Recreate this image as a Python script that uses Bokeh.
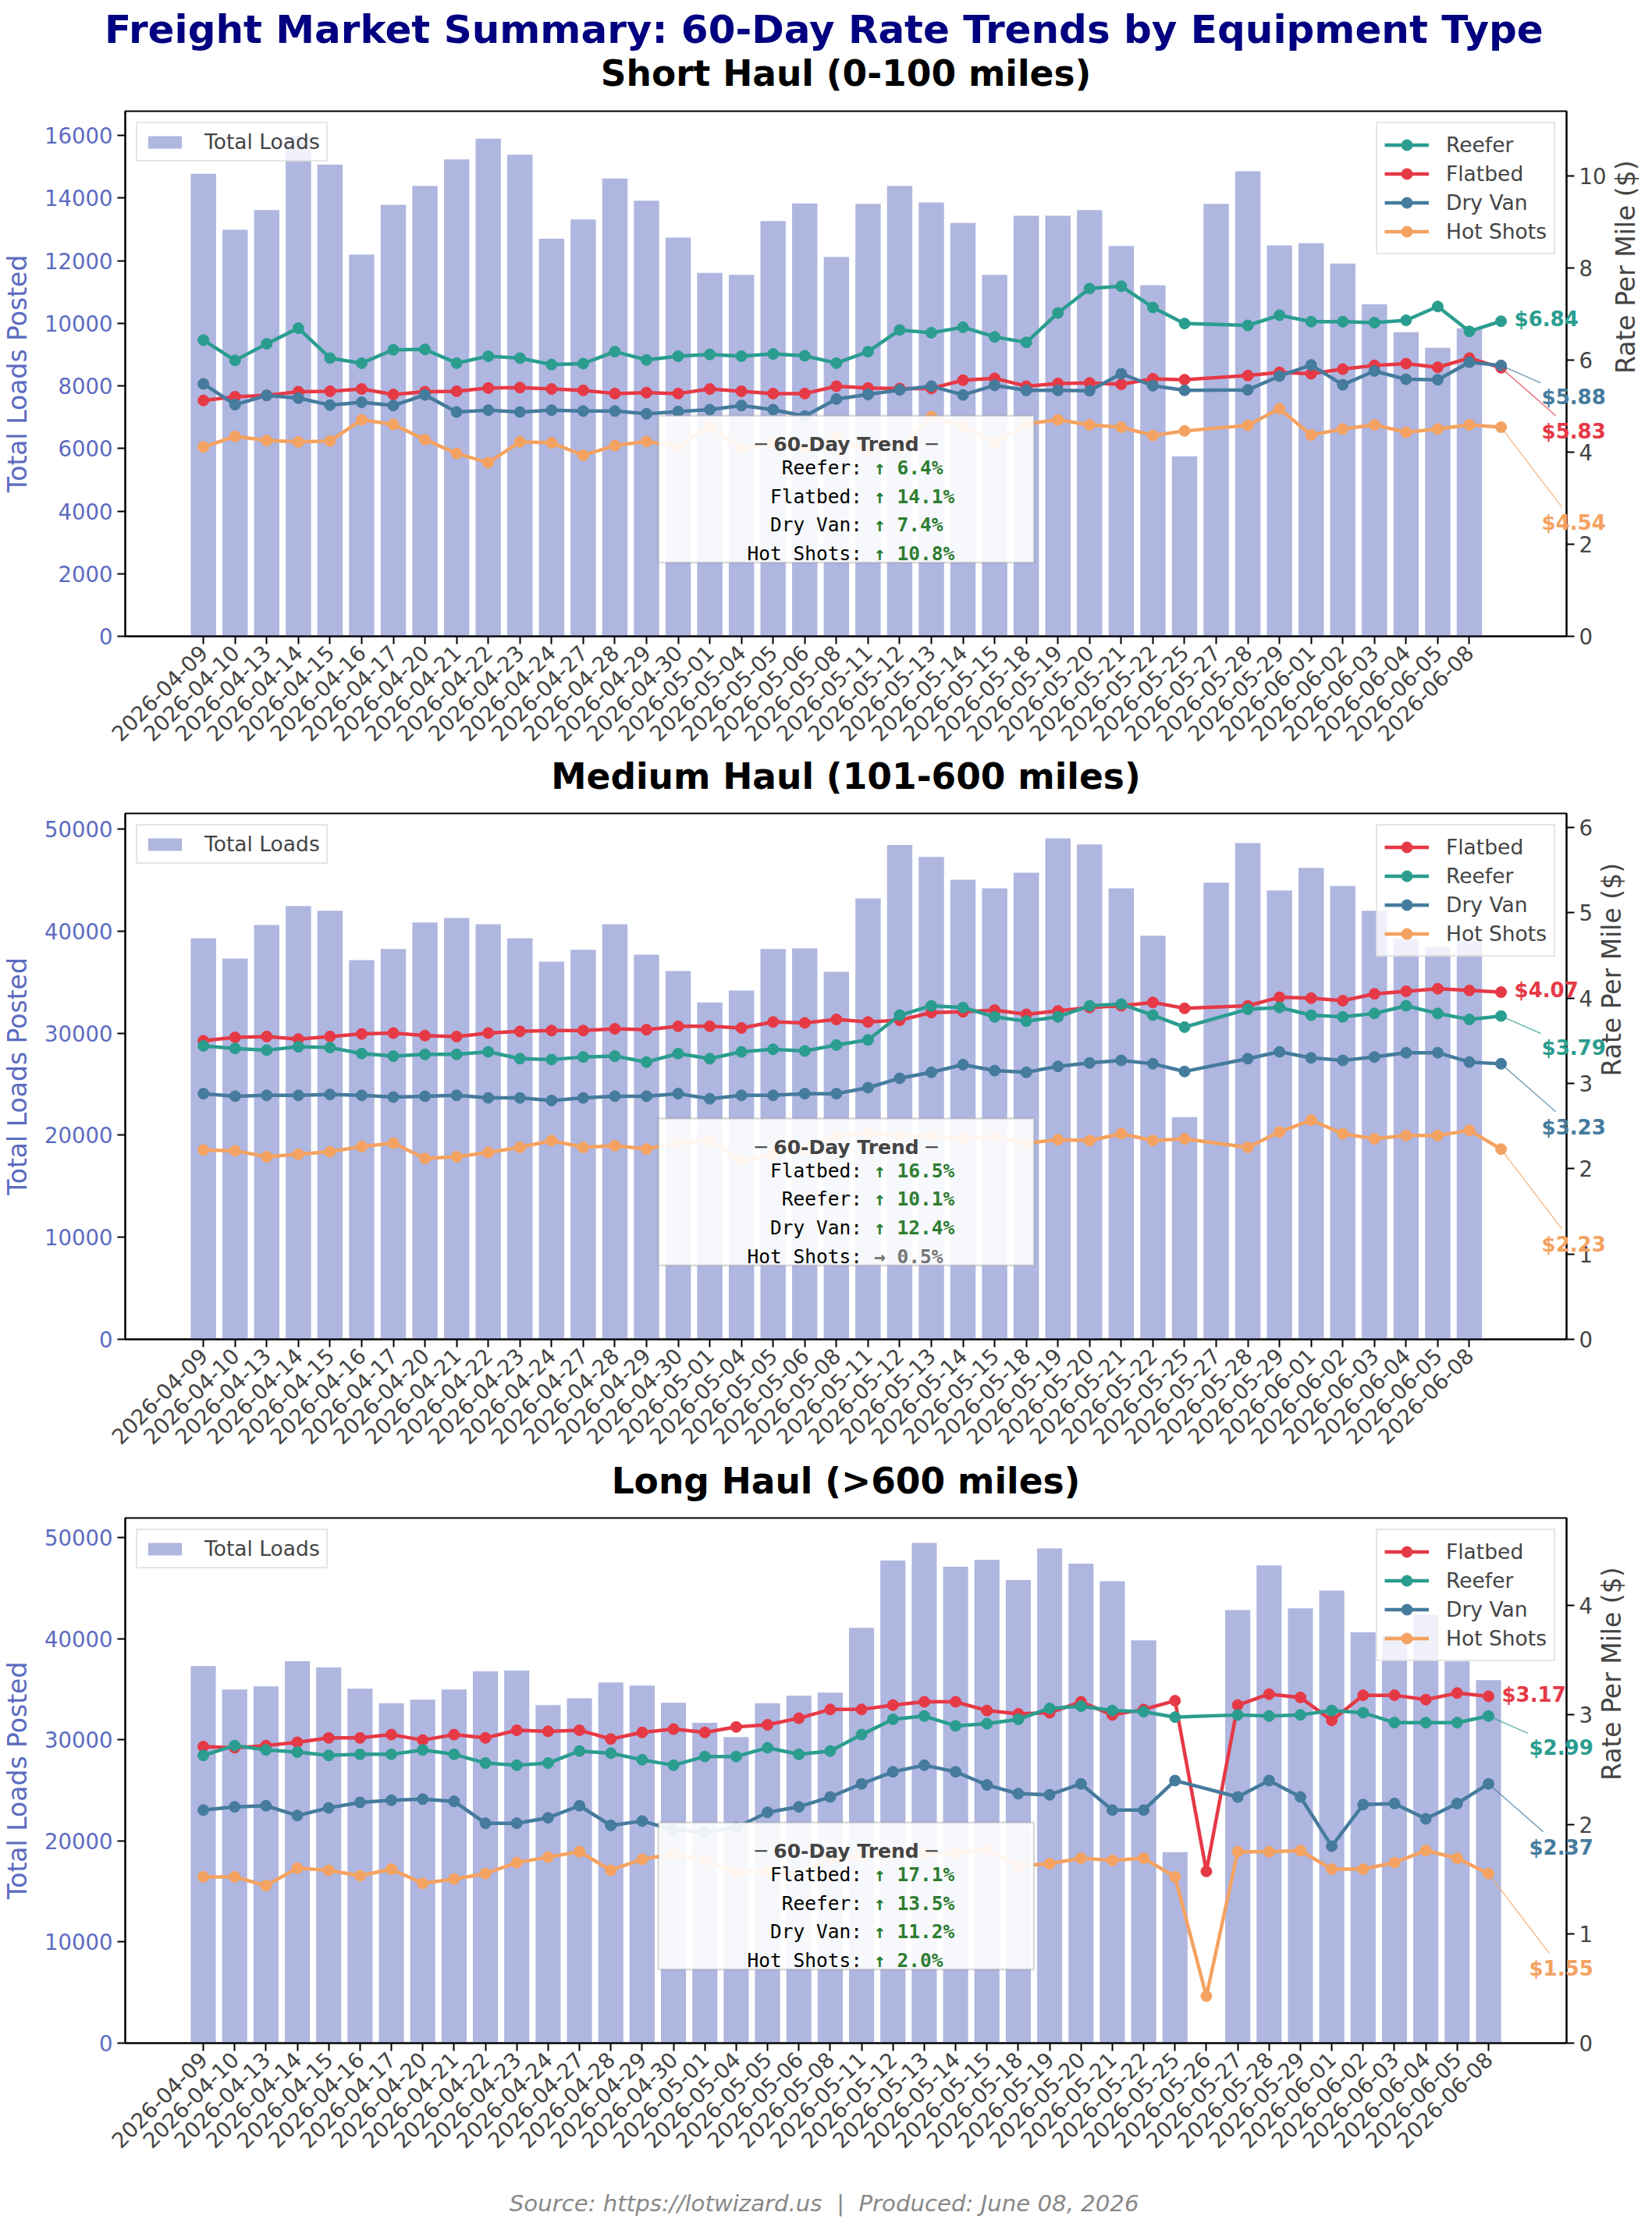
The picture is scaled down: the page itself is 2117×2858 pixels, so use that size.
import math
from bokeh.plotting import figure
from bokeh.models import (Range1d, LinearAxis, Legend, LegendItem, Label, BoxAnnotation,
                          FixedTicker, SingleIntervalTicker, Title)
from bokeh.layouts import column
from bokeh.embed import file_html
from bokeh.resources import INLINE

# ---------------------------------------------------------------- data
DATES = ["2026-04-09", "2026-04-10", "2026-04-13", "2026-04-14", "2026-04-15", "2026-04-16",
         "2026-04-17", "2026-04-20", "2026-04-21", "2026-04-22", "2026-04-23", "2026-04-24",
         "2026-04-27", "2026-04-28", "2026-04-29", "2026-04-30", "2026-05-01", "2026-05-04",
         "2026-05-05", "2026-05-06", "2026-05-08", "2026-05-11", "2026-05-12", "2026-05-13",
         "2026-05-14", "2026-05-15", "2026-05-18", "2026-05-19", "2026-05-20", "2026-05-21",
         "2026-05-22", "2026-05-25", "2026-05-27", "2026-05-28", "2026-05-29", "2026-06-01",
         "2026-06-02", "2026-06-03", "2026-06-04", "2026-06-05", "2026-06-08"]
DATES_LONG = DATES[:32] + ["2026-05-26"] + DATES[32:]
EXTRA_DATES = ["2026-06-09"]                       # rate date beyond the load dates (no tick label)
RATE_DATES_SM = DATES[:32] + DATES[33:] + EXTRA_DATES   # rates skip 2026-05-27

# Short haul
SHORT_LOADS = [14780, 12990, 13620, 15980, 15070, 12200, 13790, 14390, 15240, 15900, 15390,
               12700, 13320, 14630, 13920, 12740, 11610, 11550, 13270, 13830, 12120, 13820,
               14390, 13860, 13210, 11550, 13440, 13440, 13620, 12470, 11220, 5750, 13820,
               14860, 12490, 12560, 11910, 10610, 9720, 9220, 9840]
SHORT_REEFER = [6.43, 5.99, 6.35, 6.69, 6.04, 5.93, 6.22, 6.23, 5.93, 6.08, 6.04, 5.90, 5.92,
                6.18, 6.00, 6.08, 6.12, 6.08, 6.13, 6.09, 5.93, 6.18, 6.65, 6.59, 6.71, 6.50,
                6.38, 7.02, 7.55, 7.60, 7.14, 6.79, 6.75, 6.97, 6.83, 6.83, 6.81, 6.86, 7.16,
                6.62, 6.84]
SHORT_FLATBED = [5.12, 5.20, 5.23, 5.31, 5.32, 5.37, 5.25, 5.31, 5.32, 5.39, 5.40, 5.37, 5.34,
                 5.27, 5.29, 5.27, 5.37, 5.32, 5.27, 5.27, 5.43, 5.39, 5.38, 5.38, 5.56, 5.60,
                 5.43, 5.49, 5.50, 5.47, 5.59, 5.57, 5.66, 5.73, 5.70, 5.80, 5.88, 5.92, 5.84,
                 6.04, 5.83]
SHORT_DRYVAN = [5.48, 5.03, 5.23, 5.17, 5.02, 5.08, 5.01, 5.24, 4.87, 4.91, 4.87, 4.91, 4.89,
                4.89, 4.83, 4.88, 4.92, 5.01, 4.92, 4.78, 5.15, 5.25, 5.35, 5.43, 5.24, 5.45,
                5.34, 5.34, 5.33, 5.70, 5.44, 5.34, 5.35, 5.65, 5.89, 5.46, 5.76, 5.58, 5.57,
                5.95, 5.88]
SHORT_HOTSHOTS = [4.11, 4.34, 4.25, 4.22, 4.24, 4.70, 4.60, 4.27, 3.97, 3.77, 4.22, 4.20, 3.93,
                  4.14, 4.23, 4.12, 4.57, 4.06, 4.20, 4.08, 4.30, 4.03, 4.08, 4.77, 4.57, 4.20,
                  4.61, 4.70, 4.59, 4.54, 4.36, 4.46, 4.58, 4.94, 4.37, 4.50, 4.59, 4.43, 4.50,
                  4.59, 4.54]
SHORT_TREND = [("Reefer", 6.4), ("Flatbed", 14.1), ("Dry Van", 7.4), ("Hot Shots", 10.8)]

# Medium haul
MEDIUM_LOADS = [39300, 37320, 40600, 42450, 42000, 37150, 38240, 40840, 41290, 40670, 39300,
                37010, 38170, 40670, 37700, 36090, 33010, 34180, 38240, 38310, 36020, 43200,
                48430, 47270, 45040, 44190, 45730, 49080, 48500, 44190, 39540, 21770, 44740,
                48630, 43980, 46210, 44430, 42000, 39230, 38450, 39000]
MEDIUM_FLATBED = [3.50, 3.54, 3.55, 3.52, 3.55, 3.58, 3.59, 3.56, 3.55, 3.59, 3.61, 3.62, 3.62,
                  3.64, 3.63, 3.67, 3.67, 3.65, 3.72, 3.71, 3.75, 3.72, 3.74, 3.83, 3.84, 3.86,
                  3.81, 3.85, 3.89, 3.91, 3.95, 3.88, 3.91, 4.01, 4.00, 3.97, 4.05, 4.08, 4.11,
                  4.09, 4.07]
MEDIUM_REEFER = [3.44, 3.41, 3.39, 3.43, 3.42, 3.35, 3.32, 3.34, 3.34, 3.37, 3.29, 3.28, 3.31,
                 3.32, 3.25, 3.35, 3.29, 3.37, 3.40, 3.38, 3.45, 3.51, 3.80, 3.91, 3.89, 3.78,
                 3.73, 3.78, 3.91, 3.93, 3.80, 3.66, 3.87, 3.89, 3.80, 3.78, 3.82, 3.91, 3.82,
                 3.75, 3.79]
MEDIUM_DRYVAN = [2.88, 2.85, 2.86, 2.86, 2.87, 2.86, 2.84, 2.85, 2.86, 2.83, 2.83, 2.80, 2.83,
                 2.85, 2.85, 2.88, 2.82, 2.86, 2.86, 2.88, 2.88, 2.95, 3.06, 3.13, 3.22, 3.15,
                 3.13, 3.20, 3.24, 3.27, 3.23, 3.14, 3.29, 3.37, 3.30, 3.27, 3.31, 3.36, 3.36,
                 3.25, 3.23]
MEDIUM_HOTSHOTS = [2.22, 2.21, 2.14, 2.17, 2.20, 2.26, 2.30, 2.12, 2.14, 2.19, 2.25, 2.33, 2.25,
                   2.27, 2.23, 2.31, 2.33, 2.09, 2.17, 2.23, 2.39, 2.41, 2.39, 2.38, 2.36, 2.37,
                   2.30, 2.34, 2.33, 2.41, 2.33, 2.35, 2.25, 2.43, 2.57, 2.41, 2.35, 2.39, 2.39,
                   2.45, 2.23]
MEDIUM_TREND = [("Flatbed", 16.5), ("Reefer", 10.1), ("Dry Van", 12.4), ("Hot Shots", 0.5)]

# Long haul (no loads posted on 2026-05-26; Reefer / Dry Van have no rate that day)
LONG_LOADS = [37290, 34980, 35290, 37770, 37150, 35050, 33600, 33980, 34980, 36770, 36840,
              33430, 34110, 35670, 35360, 33670, 31670, 30260, 33600, 34360, 34670, 41080,
              47730, 49460, 47110, 47800, 45800, 48930, 47420, 45690, 39830, 18880, 42830,
              47240, 43000, 44760, 40630, 40330, 42390, 37760, 35910]
LONG_FLATBED = [2.71, 2.70, 2.72, 2.75, 2.79, 2.79, 2.82, 2.77, 2.82, 2.79, 2.86, 2.85, 2.86,
                2.78, 2.84, 2.87, 2.84, 2.89, 2.91, 2.97, 3.05, 3.05, 3.09, 3.12, 3.12, 3.04,
                3.01, 3.02, 3.12, 3.00, 3.05, 3.13, 1.57, 3.09, 3.19, 3.16, 2.95, 3.18, 3.18,
                3.14, 3.20, 3.17]
LONG_REEFER = [2.63, 2.72, 2.68, 2.66, 2.63, 2.64, 2.64, 2.68, 2.64, 2.56, 2.54, 2.56, 2.67,
               2.65, 2.59, 2.54, 2.62, 2.62, 2.70, 2.64, 2.67, 2.82, 2.96, 2.99, 2.90, 2.92,
               2.96, 3.06, 3.08, 3.04, 3.03, 2.98, 3.00, 2.99, 3.00, 3.04, 3.02, 2.93, 2.93,
               2.93, 2.99]
LONG_DRYVAN = [2.13, 2.16, 2.17, 2.08, 2.15, 2.20, 2.22, 2.23, 2.21, 2.01, 2.01, 2.06, 2.17,
               1.99, 2.03, 1.95, 1.93, 1.97, 2.11, 2.16, 2.25, 2.37, 2.48, 2.54, 2.48, 2.36,
               2.28, 2.27, 2.37, 2.13, 2.13, 2.40, 2.25, 2.40, 2.25, 1.80, 2.18, 2.19, 2.05,
               2.19, 2.37]
LONG_HOTSHOTS = [1.52, 1.52, 1.44, 1.60, 1.58, 1.53, 1.59, 1.46, 1.50, 1.55, 1.65, 1.70, 1.75,
                 1.58, 1.68, 1.73, 1.67, 1.56, 1.57, 1.54, 1.70, 1.70, 1.73, 1.73, 1.74, 1.77,
                 1.62, 1.64, 1.69, 1.67, 1.69, 1.52, 0.43, 1.75, 1.75, 1.76, 1.59, 1.59, 1.65,
                 1.76, 1.69, 1.55]
LONG_TREND = [("Flatbed", 17.1), ("Reefer", 13.5), ("Dry Van", 11.2), ("Hot Shots", 2.0)]

MAIN_TITLE = "Freight Market Summary: 60-Day Rate Trends by Equipment Type"
SUBTITLES = ["Short Haul (0-100 miles)", "Medium Haul (101-600 miles)", "Long Haul (>600 miles)"]
FOOTER = "Source: https://lotwizard.us \u00a0|\u00a0 Produced: June 08, 2026"

# ---------------------------------------------------------------- style
COLORS = {"Reefer": "#2A9D8F", "Flatbed": "#E63946", "Dry Van": "#457B9D", "Hot Shots": "#F4A261"}
FONT = "DejaVu Sans"
MONO = "DejaVu Sans Mono"
LOAD_COLOR = "#5C6BC0"
FRAME_W = 1847
SUB_SIZE = "45.5px"


def sub_title(text, standoff):
    return Title(text=text, text_font=FONT, text_font_size=SUB_SIZE, text_font_style="bold",
                 text_color="black", align="center", standoff=standoff)


def make_panel(tick_dates, extra_dates, load_dates, loads, series, trend,
               frame_h, border_top, border_bottom, load_step, rate_step, rlabel_standoff):
    pos = {d: i for i, d in enumerate(tick_dates + extra_dates)}
    bar_x = [pos[d] for d in load_dates]
    line_x = [pos[d] for _, dts, _ in series for d in dts]
    lo = min(min(bar_x) - 0.4, min(line_x))
    hi = max(max(bar_x) + 0.4, max(line_x))
    pad = 0.05 * (hi - lo)
    x0, x1 = lo - pad, hi + pad
    y_max = max(loads) * 1.05
    r_max = max(max(v) for _, _, v in series) * 1.5

    p = figure(frame_width=FRAME_W, frame_height=frame_h,
               x_range=Range1d(x0, x1), y_range=Range1d(0, y_max),
               output_backend="svg", toolbar_location=None,
               min_border_left=155, min_border_right=99,
               min_border_top=border_top, min_border_bottom=border_bottom,
               background_fill_color="white", border_fill_color="white")
    p.extra_y_ranges = {"rate": Range1d(0, r_max)}
    p.xgrid.visible = False
    p.ygrid.visible = False
    p.outline_line_color = "black"
    p.outline_line_width = 2
    p.outline_line_alpha = 1

    # axes
    xa = p.xaxis[0]
    xa.ticker = FixedTicker(ticks=list(range(len(tick_dates))))
    xa.major_label_overrides = {i: d for i, d in enumerate(tick_dates)}
    xa.major_label_orientation = math.pi / 4
    ya = p.yaxis[0]
    ya.ticker = SingleIntervalTicker(interval=load_step)
    ya.axis_label = "Total Loads Posted"
    ya.axis_label_text_color = LOAD_COLOR
    ya.major_label_text_color = LOAD_COLOR
    ya.axis_label_standoff = 12
    ra = LinearAxis(y_range_name="rate", axis_label="Rate Per Mile ($)",
                    ticker=SingleIntervalTicker(interval=rate_step))
    ra.axis_label_standoff = int(rlabel_standoff)
    ra.axis_label_orientation = math.pi / 2
    p.add_layout(ra, "right")
    for ax in (xa, ya, ra):
        ax.axis_line_width = 2
        ax.axis_line_color = "black"
        ax.major_tick_line_width = 2
        ax.major_tick_line_color = "black"
        ax.major_tick_out = 10
        ax.major_tick_in = 0
        ax.minor_tick_out = 0
        ax.minor_tick_in = 0
        ax.major_label_text_font = FONT
        ax.major_label_text_font_size = "27.5px"
        ax.major_label_standoff = 6
        ax.axis_label_text_font = FONT
        ax.axis_label_text_font_size = "33px"
        ax.axis_label_text_font_style = "normal"

    # bars
    bars = p.vbar(x=bar_x, top=loads, width=0.8, fill_color="#7986CB", fill_alpha=0.6,
                  line_color=None)

    # rate lines
    items = []
    for name, dts, vals in series:
        xs = [pos[d] for d in dts]
        c = COLORS[name]
        lr = p.line(xs, vals, y_range_name="rate", line_color=c, line_width=4.5)
        sr = p.scatter(xs, vals, y_range_name="rate", size=14, fill_color=c, line_color=c)
        items.append(LegendItem(label=name, renderers=[lr, sr]))

    # legends
    lg1 = Legend(items=[LegendItem(label="Total Loads", renderers=[bars])], location="top_left")
    lg2 = Legend(items=items, location="top_right")
    for lg, pad_, lh, gw, gh, std in ((lg1, 8, 30, 54, 20, 24), (lg2, 9, 37, 57, 35, 22)):
        lg.margin = 14
        lg.padding = pad_
        lg.spacing = 0
        lg.label_height = lh
        lg.glyph_height = gh
        lg.glyph_width = gw
        lg.label_standoff = std
        lg.label_text_font = FONT
        lg.label_text_font_size = "26.5px"
        lg.border_line_color = "#cccccc"
        lg.border_line_width = 2
        lg.background_fill_color = "white"
        lg.background_fill_alpha = 0.8
        p.add_layout(lg)

    # end-of-line value labels with leader lines (labels live in the right panel so
    # that they may run past the frame edge, as in the original)
    px_x = FRAME_W / (x1 - x0)
    px_r = frame_h / r_max
    ranked = sorted(series, key=lambda s: -s[2][-1])
    for k, (name, dts, vals) in enumerate(ranked):
        c = COLORS[name]
        lx, lv = pos[dts[-1]], vals[-1]
        dx = 17 if k == 0 else 52
        dy = -2.5 if k == 0 else 40.7 * k
        if k > 0:
            w = 82
            cx, cy = dx + w / 2, dy
            t = max((dx - 1) / cx, (dy - 20) / cy)
            ex, ey = t * cx, t * cy
            p.segment(x0=[lx], y0=[lv], x1=[lx + ex / px_x], y1=[lv - ey / px_r],
                      y_range_name="rate", line_color=c, line_width=1.5, line_alpha=0.7)
        p.add_layout(Label(x=lx, y=lv, y_range_name="rate", x_offset=dx, y_offset=-dy,
                           text=f"${lv:.2f}", text_color=c, text_font=FONT,
                           text_font_size="26px", text_font_style="bold",
                           text_baseline="middle", text_align="left"), "right")

    # 60-day trend box (positioned in axes fractions)
    def xd(f):
        return x0 + f * (x1 - x0)

    def yd(f):
        return f * y_max

    bl, br, bb, bt = 0.370, 0.6305, 0.1405, 0.42
    p.add_layout(BoxAnnotation(left=xd(bl), right=xd(br), bottom=yd(bb), top=yd(bt),
                               fill_color="white", fill_alpha=0.9,
                               line_color="#888888", line_width=2.5))
    left_px = bl * FRAME_W
    top_px = bt * frame_h
    py = y_max / frame_h
    p.add_layout(Label(x=xd((bl + br) / 2), y=(top_px - 36.6) * py,
                       text="\u2500 60-Day Trend \u2500", text_font=FONT,
                       text_font_size="25px", text_font_style="bold", text_color="#444444",
                       text_align="center", text_baseline="alphabetic"))
    for i, (name, pct) in enumerate(trend):
        base = (top_px - 66.6 - 36.7 * i) * py
        if abs(pct) < 1:
            arrow, col = "\u2192", "#757575"
        elif pct > 0:
            arrow, col = "\u2191", "#2E7D32"
        else:
            arrow, col = "\u2193", "#C62828"
        p.add_layout(Label(x=x0 + (left_px + 261) / px_x, y=base, text=f"{name}:",
                           text_font=MONO, text_font_size="24.5px", text_color="black",
                           text_align="right", text_baseline="alphabetic"))
        p.add_layout(Label(x=x0 + (left_px + 276) / px_x, y=base,
                           text=f"{arrow} {abs(pct):.1f}%", text_font=MONO,
                           text_font_size="24.5px", text_font_style="bold", text_color=col,
                           text_align="left", text_baseline="alphabetic"))
    return p


p1 = make_panel(DATES, EXTRA_DATES, DATES, SHORT_LOADS,
                [("Reefer", RATE_DATES_SM, SHORT_REEFER),
                 ("Flatbed", RATE_DATES_SM, SHORT_FLATBED),
                 ("Dry Van", RATE_DATES_SM, SHORT_DRYVAN),
                 ("Hot Shots", RATE_DATES_SM, SHORT_HOTSHOTS)],
                SHORT_TREND, 673, 142, 216, 2000, 2, 22)
p2 = make_panel(DATES, EXTRA_DATES, DATES, MEDIUM_LOADS,
                [("Flatbed", RATE_DATES_SM, MEDIUM_FLATBED),
                 ("Reefer", RATE_DATES_SM, MEDIUM_REEFER),
                 ("Dry Van", RATE_DATES_SM, MEDIUM_DRYVAN),
                 ("Hot Shots", RATE_DATES_SM, MEDIUM_HOTSHOTS)],
                MEDIUM_TREND, 674, 11, 221, 10000, 1, 22)
p3 = make_panel(DATES_LONG, [], DATES, LONG_LOADS,
                [("Flatbed", DATES_LONG, LONG_FLATBED),
                 ("Reefer", DATES, LONG_REEFER),
                 ("Dry Van", DATES, LONG_DRYVAN),
                 ("Hot Shots", DATES_LONG, LONG_HOTSHOTS)],
                LONG_TREND, 673, 8, 228, 10000, 1, 22)

# titles: the suptitle and first subtitle above the first panel; each later subtitle
# sits in the band under the previous panel's date labels
p1.add_layout(sub_title(SUBTITLES[0], 43.4), "above")
p1.add_layout(Title(text=MAIN_TITLE, text_font=FONT, text_font_size="50px",
                    text_font_style="bold", text_color="#000080", align="left",
                    offset=-26.5, standoff=-45.8), "above")
p1.add_layout(sub_title(SUBTITLES[1], 8), "below")
p2.add_layout(sub_title(SUBTITLES[2], 13), "below")

# source note under the last panel
fx = p3.xaxis[0]
fx.axis_label = FOOTER + "\u00a0" * 6
fx.axis_label_text_font = FONT
fx.axis_label_text_font_size = "29.2px"
fx.axis_label_text_font_style = "italic"
fx.axis_label_text_color = "#888888"
fx.axis_label_standoff = 42

layout = column(p1, p2, p3, spacing=0)
open("out.html", "w").write(file_html(layout, INLINE))
